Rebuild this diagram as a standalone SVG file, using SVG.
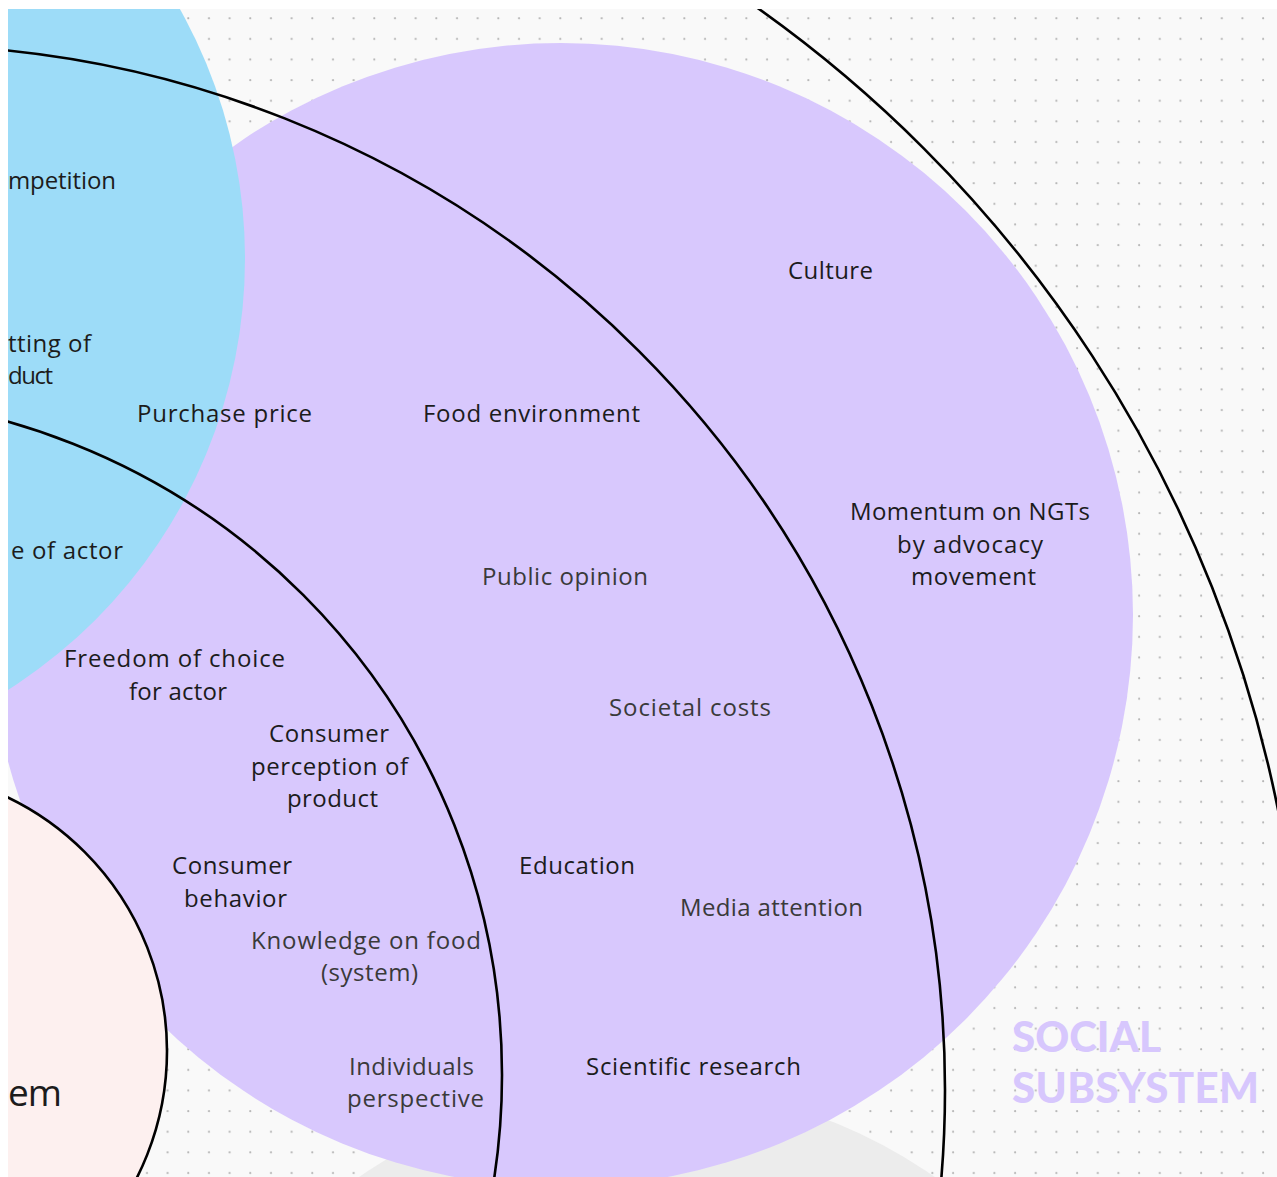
<svg xmlns="http://www.w3.org/2000/svg" width="1277" height="1177" viewBox="0 0 1277 1177">
  <defs>
    <pattern id="dots" patternUnits="userSpaceOnUse" x="-7.73" y="8.3" width="20.67" height="20.62">
      <circle cx="10" cy="10" r="1.05" fill="#b4b4b4"/>
    </pattern>
    <clipPath id="canvas">
      <rect x="8" y="9" width="1269" height="1168"/>
    </clipPath>
    <style>
      .lbl { font-family: "Open Sans", Lato, "Liberation Sans", sans-serif; font-size: 24px; fill: #1c1c1c; }
      .soft { fill: #3a3a3a; }
      .mid { text-anchor: middle; }
      .ring { fill: none; stroke: #000; stroke-width: 2.6; }
      .title { font-family: Lato, "Liberation Sans", sans-serif; font-weight: 900; font-size: 42px; fill: #d7c7fd; }
    </style>
  </defs>

  <rect width="1277" height="1177" fill="#ffffff"/>

  <g clip-path="url(#canvas)">
    <!-- board background with dot grid -->
    <rect x="8" y="9" width="1269" height="1168" fill="#f9f9f9"/>
    <rect x="8" y="9" width="1269" height="1168" fill="url(#dots)"/>

    <!-- filled subsystem discs -->
    <g id="other-subsystem">
      <circle cx="647" cy="1587" r="501" fill="#ececec"/>
    </g>
    <g id="social-subsystem">
      <circle cx="561" cy="615" r="572" fill="#d8c8fd"/>
    </g>
    <g id="economic-subsystem">
      <circle cx="-266" cy="258.6" r="511" fill="#9ddcf8"/>
    </g>
    <g id="core-system">
      <circle cx="-114.5" cy="1051" r="281.5" fill="#fdf0ef"/>
    </g>

    <!-- level rings -->
    <g id="rings">
      <circle class="ring" cx="-114.5" cy="1051" r="281.5"/>
      <circle class="ring" cx="-177" cy="1075" r="679"/>
      <circle class="ring" cx="-100" cy="1090" r="1045"/>
      <circle class="ring" cx="8" cy="1064" r="1295"/>
    </g>

    <!-- factor labels -->
    <g id="n-competition"><text class="lbl" x="8" y="189" textLength="108" lengthAdjust="spacing">mpetition</text></g>
    <g id="n-marketing">
      <text class="lbl" x="8" y="352" textLength="83" lengthAdjust="spacing">tting of</text>
      <text class="lbl" x="8" y="384" textLength="45" lengthAdjust="spacing">duct</text>
    </g>
    <g id="n-purchase-price"><text class="lbl" x="137" y="422" textLength="175" lengthAdjust="spacing">Purchase price</text></g>
    <g id="n-food-environment"><text class="lbl" x="423" y="422" textLength="217" lengthAdjust="spacing">Food environment</text></g>
    <g id="n-culture"><text class="lbl" x="788" y="279" textLength="85" lengthAdjust="spacing">Culture</text></g>
    <g id="n-momentum">
      <text class="lbl mid" x="970" y="520" textLength="240" lengthAdjust="spacing">Momentum on NGTs</text>
      <text class="lbl mid" x="970" y="553" textLength="146" lengthAdjust="spacing">by advocacy</text>
      <text class="lbl mid" x="973.5" y="585" textLength="125" lengthAdjust="spacing">movement</text>
    </g>
    <g id="n-value-of-actor"><text class="lbl" x="11" y="559" textLength="112" lengthAdjust="spacing">e of actor</text></g>
    <g id="n-public-opinion"><text class="lbl soft" x="482" y="585" textLength="166" lengthAdjust="spacing">Public opinion</text></g>
    <g id="n-freedom-of-choice">
      <text class="lbl mid" x="174.5" y="667" textLength="221" lengthAdjust="spacing">Freedom of choice</text>
      <text class="lbl mid" x="178" y="700" textLength="98" lengthAdjust="spacing">for actor</text>
    </g>
    <g id="n-societal-costs"><text class="lbl soft" x="609" y="716" textLength="162" lengthAdjust="spacing">Societal costs</text></g>
    <g id="n-consumer-perception">
      <text class="lbl mid" x="329" y="742" textLength="120" lengthAdjust="spacing">Consumer</text>
      <text class="lbl mid" x="329.5" y="775" textLength="157" lengthAdjust="spacing">perception of</text>
      <text class="lbl mid" x="332.5" y="807" textLength="91" lengthAdjust="spacing">product</text>
    </g>
    <g id="n-education"><text class="lbl" x="519" y="874" textLength="116" lengthAdjust="spacing">Education</text></g>
    <g id="n-consumer-behavior">
      <text class="lbl mid" x="232" y="874" textLength="120" lengthAdjust="spacing">Consumer</text>
      <text class="lbl mid" x="235.5" y="907" textLength="103" lengthAdjust="spacing">behavior</text>
    </g>
    <g id="n-media-attention"><text class="lbl soft" x="680" y="916" textLength="183" lengthAdjust="spacing">Media attention</text></g>
    <g id="n-knowledge">
      <text class="lbl soft mid" x="366" y="949" textLength="230" lengthAdjust="spacing">Knowledge on food</text>
      <text class="lbl soft mid" x="369.5" y="981" textLength="97" lengthAdjust="spacing">(system)</text>
    </g>
    <g id="n-scientific-research"><text class="lbl" x="586" y="1075" textLength="215" lengthAdjust="spacing">Scientific research</text></g>
    <g id="n-individuals">
      <text class="lbl soft mid" x="411.5" y="1075" textLength="125" lengthAdjust="spacing">Individuals</text>
      <text class="lbl soft mid" x="415.5" y="1107" textLength="137" lengthAdjust="spacing">perspective</text>
    </g>
    <g id="n-core-title"><text class="lbl" x="8" y="1106" style="font-size:37px" textLength="54" lengthAdjust="spacing">em</text></g>

    <!-- subsystem heading -->
    <g id="social-subsystem-title">
      <text class="title" x="1012" y="1052" textLength="149" lengthAdjust="spacing">SOCIAL</text>
      <text class="title" x="1012" y="1103" textLength="247" lengthAdjust="spacing">SUBSYSTEM</text>
    </g>
  </g>
</svg>
